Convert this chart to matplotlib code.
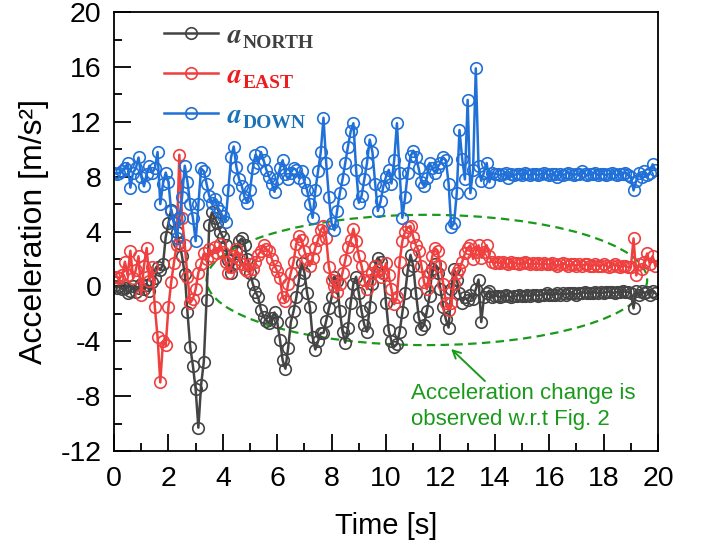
import numpy as np
import matplotlib
matplotlib.use("Agg")
import matplotlib.pyplot as plt
from matplotlib.patches import Ellipse
from matplotlib.transforms import IdentityTransform

plt.rcParams['font.family'] = ['Liberation Sans', 'DejaVu Sans']
plt.rcParams['mathtext.fontset'] = 'stix'
plt.rcParams['axes.unicode_minus'] = False

dt = 0.1  # sampling step [s]

# ---- a_DOWN ----
down_active = [
    8.3, 8.2, 8.3, 8.4, 8.6, 9.0, 7.2, 8.3, 8.6, 9.4,
    8.0, 7.3, 8.2, 8.8, 8.3, 8.6, 9.8, 6.0, 7.5, 8.3,
    7.6, 5.5, 4.6, 3.5, 5.0, 6.5, 8.8, 7.6, 6.0, 5.0,
    3.3, 6.0, 8.6, 8.4, 7.5, 6.6, 6.1, 6.4, 5.8, 5.5,
    5.1, 4.7, 7.0, 9.4, 10.2, 8.7, 7.8, 7.3, 6.5, 6.1,
    7.0, 8.6, 9.6, 9.0, 9.8, 9.2, 8.5, 8.0, 7.5, 6.9,
    7.8, 8.6, 9.2, 8.2, 7.8, 8.3, 8.6, 8.5, 7.9, 8.4,
    7.6, 7.0, 6.0, 5.0, 7.0, 8.4, 9.8, 12.3, 9.0, 6.5,
    4.6, 4.1, 5.5, 6.8, 7.8, 9.0, 10.2, 11.3, 11.9, 8.5,
    6.1, 6.6, 7.8, 9.0, 10.7, 9.8, 7.5, 5.5, 6.2, 7.3,
    8.0, 8.5, 7.5, 9.2, 11.9, 8.3, 5.0, 6.5, 8.3, 9.5,
    9.9, 9.4, 8.6, 7.6, 7.3, 7.9, 9.0, 8.6, 8.3, 8.7,
    9.0, 9.4, 9.2, 7.5, 4.3, 4.6, 6.8, 11.4, 9.3, 7.8,
    13.6, 6.8, 8.5, 15.9, 8.8, 7.7, 8.3, 9.0, 7.6, 8.3,
    8.2]
down_flat = [
    8.2, 8.1, 8.2, 8.3, 7.9, 8.2, 8.1,
    8.2, 8.2, 8.1, 8.3, 8.2, 8.1, 8.2,
    8.2, 8.1, 8.2, 8.3, 8.2, 8.1, 8.2,
    8.2, 8.0, 8.2, 8.1, 8.2, 8.3, 8.2,
    8.1, 8.2, 8.2, 8.4, 8.2, 8.1, 8.2,
    8.2, 8.3, 8.1, 8.2, 8.2, 8.1, 8.2,
    8.3, 8.2, 8.1, 8.2, 8.2, 8.3, 8.1]
down_end = [8.0, 7.0, 7.7, 8.3, 8.0, 8.4, 8.1, 8.3, 8.9, 8.5]

# ---- a_EAST ----
east_active = [
    0.7, 0.7, 0.6, 0.8, 1.8, 0.8, 2.6, 0.6, 1.2, 2.2,
    -0.6, 1.5, 2.8, 0.4, 1.4, -1.5, -3.7, -7.0, -4.0, -4.3,
    -1.5, 0.3, 1.7, 3.0, 9.6, 5.0, 3.0, 0.7, -1.2, -0.9,
    -0.2, 1.0, 1.6, 2.4, 2.0, 2.7, 2.2, 2.9, 2.4, 3.1,
    2.5, 1.8, 1.0, 1.4, 2.2, 2.7, 2.0, 1.6, 1.3, 1.1,
    1.6, 1.3, 1.8, 2.3, 2.6, 3.0, 2.7, 2.6, 2.0, 1.5,
    1.1, 0.6, -0.8, -1.1, 0.2, 1.0, 1.8, 3.1, 3.7, 3.4,
    2.6, 2.0, 1.5, 2.1, 2.8, 3.4, 4.1, 4.4, 3.5, 1.4,
    0.5, 0.0, -0.4, 0.2, 1.0, 1.9, 2.9, 3.4, 4.2, 3.3,
    2.2, 1.5, 0.5, -0.2, 0.5, 1.0, 1.5, 1.2, 0.7, 1.0,
    1.7, 0.8, -0.2, -1.3, -0.8, 1.8, 3.3, 4.0, 4.3, 4.4,
    3.6, 3.0, 2.6, 1.5, 0.3, -0.2, 1.0, 2.2, 2.8, 2.6,
    1.5, 0.2, -1.2, -1.7, -1.2, 0.2, 1.0, 1.3, 1.8, 2.4,
    2.8, 3.0, 2.0, 2.5, 3.0, 2.1, 2.5, 3.0, 2.2, 1.8,
    1.7]
east_flat = [
    1.8, 1.7, 1.8, 1.7, 1.6, 1.8, 1.7,
    1.7, 1.6, 1.7, 1.8, 1.7, 1.6, 1.7,
    1.6, 1.7, 1.6, 1.7, 1.6, 1.6, 1.7,
    1.6, 1.5, 1.6, 1.7, 1.6, 1.5, 1.6,
    1.6, 1.5, 1.6, 1.5, 1.6, 1.6, 1.5,
    1.5, 1.6, 1.5, 1.5, 1.6, 1.5, 1.4,
    1.5, 1.6, 1.5, 1.4, 1.5, 1.5, 1.4]
east_end = [1.4, 3.5, 0.8, 1.6, 1.3, 1.8, 2.4, 1.6, 2.2, 1.5]

# ---- a_NORTH ----
north_active = [
    0.0, -0.1, 0.0, -0.2, -0.1, -0.5, -0.3, 0.0, -0.4, -0.1,
    0.2, -0.2, 0.1, -0.3, 0.3, 0.6, 1.4, 1.2, 1.6, 3.6,
    4.6, 5.6, 4.8, 4.0, 3.2, 2.2, 0.9, -1.9, -4.4, -5.8,
    -7.5, -10.3, -7.2, -5.5, -1.0, 4.5, 5.4, 5.0, 4.6, 4.0,
    3.6, 3.0, 1.9, 1.0, 1.6, 2.6, 3.3, 3.5, 3.0, 2.0,
    1.0, 0.2, -0.4, -0.8, -1.7, -2.2, -2.5, -2.7, -2.3, -1.9,
    -2.6, -3.9, -5.4, -6.0, -4.5, -2.6, -1.8, -0.8, 0.5, 1.7,
    1.0, -0.5, -1.5, -3.7, -4.6, -4.0, -3.4, -3.4, -2.5, -1.6,
    -0.8, 0.7, 0.4, -1.8, -3.3, -4.1, -3.0, -1.2, 0.2, 0.7,
    -0.5, -1.8, -2.8, -3.3, -1.5, 0.2, 1.5, 2.1, 1.8, 1.0,
    -1.2, -3.2, -4.0, -4.4, -4.2, -3.3, -1.9, -0.5, 1.2, 2.3,
    1.5, -0.5, -2.2, -3.1, -2.8, -1.8, -0.7, 1.3, 1.6, 1.0,
    -0.2, -1.5, -2.4, -3.0, -0.2, 1.3, 0.5, -0.5, -1.2, -0.8,
    -1.0, -0.6, -0.9, -0.2, 0.5, -2.6, -0.8, -0.5, -0.3, -0.8,
    -0.7]
north_flat = [
    -0.7, -0.8, -0.7, -0.6, -0.7, -0.8, -0.7,
    -0.7, -0.6, -0.7, -0.7, -0.6, -0.7, -0.6,
    -0.6, -0.7, -0.6, -0.6, -0.5, -0.6, -0.6,
    -0.6, -0.5, -0.6, -0.5, -0.6, -0.5, -0.5,
    -0.5, -0.6, -0.5, -0.5, -0.4, -0.5, -0.5,
    -0.5, -0.4, -0.5, -0.4, -0.5, -0.4, -0.4,
    -0.4, -0.5, -0.4, -0.4, -0.3, -0.4, -0.4]
north_end = [-0.5, -1.6, -0.3, -0.6, -0.3, -0.5, -0.4, -0.6, -0.3, -0.5]

a_north = np.array(north_active + north_flat + north_end)
a_east = np.array(east_active + east_flat + east_end)
a_down = np.array(down_active + down_flat + down_end)

subscripts = ['NORTH', 'EAST', 'DOWN']
line_colors = ['#444444', '#ef3f3f', '#2070d8']
text_colors = ['#404040', '#ee1c1c', '#1b72b8']

fig = plt.figure(figsize=(7.04, 5.5), dpi=100)
ax = fig.add_axes([0.162, 0.18, 0.7727, 0.798])

for series, col in zip([a_north, a_east, a_down], line_colors):
    t = np.arange(len(series)) * dt
    ax.plot(t, series, '-o', color=col, lw=1.8, ms=8.3, mfc='none', mec=col, mew=1.2,
            label=r'$\mathbfit{a}$')

ax.set_xlim(0, 20)
ax.set_ylim(-12, 20)
ax.set_xticks(np.arange(0, 21, 2))
ax.set_xticks(np.arange(1, 20, 2), minor=True)
ax.set_yticks(np.arange(-12, 21, 4))
ax.set_yticks(np.arange(-10, 20, 4), minor=True)
ax.tick_params(which='major', direction='in', length=12, width=1.3, labelsize=20.5, top=False, right=False)
ax.tick_params(axis='x', which='major', pad=11)
ax.tick_params(axis='y', which='major', pad=9)
ax.tick_params(which='minor', direction='in', length=6, width=1.3, top=False, right=False)
for s in ax.spines.values():
    s.set_linewidth(1.3)

ax.set_xlabel('Time [s]', fontsize=21, labelpad=14)
ax.set_ylabel('Acceleration [m/s²]', fontsize=23, labelpad=8)

green = '#1a9a1a'
ell = Ellipse((11.5, 0.47), 16.2, 9.5, fill=False, edgecolor=green, lw=1.6, linestyle=(0, (3.8, 2.4)))
ax.add_patch(ell)
ax.annotate('', xy=(12.32, -4.42), xytext=(13.71, -7.04),
            arrowprops=dict(arrowstyle='->', color=green, lw=1.4, mutation_scale=14))
ax.text(10.9, -7.05, 'Acceleration change is\nobserved w.r.t Fig. 2', color=green, fontsize=16,
        va='top', ha='left', linespacing=1.3)

leg = ax.legend(loc='upper left', bbox_to_anchor=(0.072, 1.0), borderaxespad=0.0, frameon=False,
                fontsize=20, handlelength=1.95, labelspacing=0.5, handletextpad=0.3)
for txt, c in zip(leg.get_texts(), text_colors):
    txt.set_color(c)

fig.canvas.draw()
renderer = fig.canvas.get_renderer()
for txt, sub, c in zip(leg.get_texts(), subscripts, text_colors):
    bb = txt.get_window_extent(renderer)
    fig.text(bb.x1 + 1, bb.y0 + 1, sub, transform=IdentityTransform(), fontsize=14,
             family='Liberation Serif', fontweight='bold', color=c, va='baseline', ha='left')

fig.savefig('out.png', dpi=100)
